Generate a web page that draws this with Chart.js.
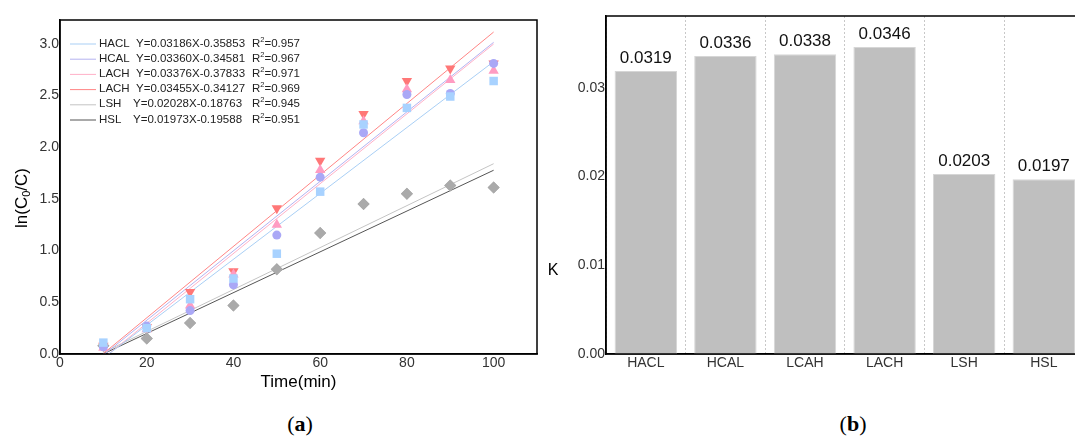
<!DOCTYPE html>
<html><head><meta charset="utf-8">
<script src="https://cdn.jsdelivr.net/npm/chart.js@4"></script>
<style>
html,body{margin:0;padding:0;background:#fff;overflow:hidden;width:1075px;height:440px;position:relative;}
#wrapA{position:absolute;left:0;top:0;width:545px;height:400px;}
#wrapB{position:absolute;left:540px;top:0;width:553px;height:400px;}
.cap{position:absolute;top:411px;font-family:"Liberation Serif","DejaVu Serif",serif;font-size:22px;color:#000;transform:translateX(-50%);white-space:nowrap;}
</style></head><body>
<div id="wrapA"><canvas id="ca" width="545" height="400" style="width:545px;height:400px"></canvas></div>
<div id="wrapB"><canvas id="cb" width="553" height="400" style="width:553px;height:400px"></canvas></div>
<div class="cap" style="left:300px">(<b>a</b>)</div>
<div class="cap" style="left:853px">(<b>b</b>)</div>
<script>
// ---- Panel (a): kinetics data ----
const timeMin = [10, 20, 30, 40, 50, 60, 70, 80, 90, 100];
const haclVals = [0.11, 0.25, 0.53, 0.73, 0.97, 1.57, 2.22, 2.38, 2.49, 2.64];
const hcalVals = [0.07, 0.27, 0.42, 0.67, 1.15, 1.71, 2.14, 2.51, 2.52, 2.81];
const lach1Vals = [0.06, 0.24, 0.47, 0.77, 1.25, 1.78, 2.25, 2.56, 2.65, 2.74];
const lach2Vals = [0.08, 0.26, 0.60, 0.80, 1.41, 1.87, 2.32, 2.64, 2.76, 2.81];
const lshVals = [0.08, 0.15, 0.30, 0.47, 0.82, 1.17, 1.45, 1.55, 1.63, 1.61];
const hslVals = [0.08, 0.15, 0.30, 0.47, 0.82, 1.17, 1.45, 1.55, 1.63, 1.61];

const fitNames = ['HACL', 'HCAL', 'LACH', 'LACH', 'LSH', 'HSL'];
const fitSlopes = [0.03186, 0.03360, 0.03376, 0.03455, 0.02028, 0.01973];
const fitIntercepts = [-0.35853, -0.34581, -0.37833, -0.34127, -0.18763, -0.19588];
const fitR2 = ['0.957', '0.967', '0.971', '0.969', '0.945', '0.951'];
const fitRange = [10, 100];

// ---- Panel (b): rate constants ----
const kCategories = ['HACL', 'HCAL', 'LCAH', 'LACH', 'LSH', 'HSL'];
const kValues = [0.0319, 0.0336, 0.0338, 0.0346, 0.0203, 0.0197];

// styles
const lineColors = ['#a9cff5', '#b4b2f0', '#ffb0c8', '#ff8585', '#c4c4c4', '#555555'];
const markerSets = [
  {vals: haclVals, style: 'rect', r: 6, color: '#a8d2ff'},
  {vals: hcalVals, style: 'circle', r: 4.5, color: '#aaa8f6'},
  {vals: lach1Vals, style: 'triangle', r: 6, color: '#ff9cc2', rot: 0},
  {vals: lach2Vals, style: 'triangle', r: 6, color: '#ff7777', rot: 180},
  {vals: lshVals, style: 'rectRot', r: 6, color: '#aaaaaa'},
  {vals: hslVals, style: 'rectRot', r: 6, color: '#aaaaaa'}
];
const FONT = '"Liberation Sans", Arial, sans-serif';
Chart.defaults.font.family = FONT;

const datasetsA = [];
fitNames.forEach((n, i) => {
  datasetsA.push({
    label: n + ' fit',
    data: fitRange.map(t => ({x: t, y: fitSlopes[i] * t + fitIntercepts[i]})),
    showLine: true, borderColor: lineColors[i], borderWidth: 1,
    pointRadius: 0, fill: false, order: 2
  });
});
markerSets.forEach((m, i) => {
  datasetsA.push({
    label: fitNames[i],
    data: timeMin.map((t, j) => ({x: t, y: m.vals[j]})),
    showLine: false, pointStyle: m.style, pointRadius: m.r, pointHoverRadius: m.r,
    rotation: m.rot || 0,
    backgroundColor: m.color, borderColor: m.color, borderWidth: 0, order: 1
  });
});

const frameA = {
  id: 'frameA',
  afterDraw(chart) {
    const {ctx, chartArea: a} = chart;
    ctx.save();
    ctx.strokeStyle = '#000'; ctx.lineWidth = 1.5;
    ctx.strokeRect(a.left, a.top, a.right - a.left, a.bottom - a.top);
    // legend
    ctx.textBaseline = 'middle';
    const lf = '11.5px ' + FONT;
    fitNames.forEach((name, i) => {
      const y = 43.5 + i * 15.2;
      ctx.strokeStyle = lineColors[i]; ctx.lineWidth = 1;
      ctx.beginPath(); ctx.moveTo(70, y + 0.5); ctx.lineTo(96, y + 0.5); ctx.stroke();
      ctx.fillStyle = '#222';
      ctx.font = lf;
      ctx.fillText(name, 99, y);
      const b = fitIntercepts[i];
      const eq = 'Y=' + fitSlopes[i].toFixed(5) + 'X' + (b < 0 ? '-' : '+') + Math.abs(b).toFixed(5);
      ctx.fillText(eq, name.length < 4 ? 133 : 136, y);
      let x = 252;
      ctx.fillText('R', x, y); x += ctx.measureText('R').width;
      ctx.font = '7.5px ' + FONT;
      ctx.fillText('2', x, y - 4); x += ctx.measureText('2').width;
      ctx.font = lf;
      ctx.fillText('=' + fitR2[i], x, y);
    });
    // y title ln(C0/C)
    ctx.translate(22, 198);
    ctx.rotate(-Math.PI / 2);
    ctx.fillStyle = '#000';
    const big = '17px ' + FONT, small = '11px ' + FONT;
    ctx.font = big; const w1 = ctx.measureText('ln(C').width; const w3 = ctx.measureText('/C)').width;
    ctx.font = small; const w2 = ctx.measureText('0').width;
    let x0 = -(w1 + w2 + w3) / 2;
    ctx.textBaseline = 'middle';
    ctx.font = big; ctx.fillText('ln(C', x0, 0); x0 += w1;
    ctx.font = small; ctx.fillText('0', x0, 5); x0 += w2;
    ctx.font = big; ctx.fillText('/C)', x0, 0);
    ctx.restore();
  }
};

new Chart(document.getElementById('ca'), {
  type: 'scatter',
  data: {datasets: datasetsA},
  options: {
    responsive: false, animation: false, devicePixelRatio: 1,
    layout: {padding: {top: 20, right: 8, left: 0, bottom: 0}},
    plugins: {legend: {display: false}, tooltip: {enabled: false}},
    scales: {
      x: {
        type: 'linear', min: 0, max: 110,
        ticks: {stepSize: 20, includeBounds: false, color: '#333', font: {size: 14}, padding: 1},
        grid: {display: false, drawTicks: false},
        border: {display: true, color: '#000', width: 1.5},
        title: {display: true, text: 'Time(min)', color: '#000', font: {size: 17}, padding: {top: 7, bottom: 7}},
        afterFit(s) { s.height = 46; }
      },
      y: {
        type: 'linear', min: 0, max: 3.23,
        ticks: {stepSize: 0.5, includeBounds: false, color: '#333', font: {size: 14}, padding: 1,
          callback: v => Number(v).toFixed(1)},
        grid: {display: false, drawTicks: false},
        border: {display: true, color: '#000', width: 1.5},
        afterFit(s) { s.width = 60; }
      }
    }
  },
  plugins: [frameA]
});

// ---- Panel (b) ----
const frameB = {
  id: 'frameB',
  afterDatasetsDraw(chart) {
    const {ctx, chartArea: a} = chart;
    ctx.save();
    ctx.font = '17px ' + FONT; ctx.fillStyle = '#111';
    ctx.textAlign = 'center'; ctx.textBaseline = 'bottom';
    chart.getDatasetMeta(0).data.forEach((bar, i) => {
      ctx.fillText(kValues[i].toFixed(4), bar.x, bar.y - 4);
    });
    ctx.strokeStyle = '#000'; ctx.lineWidth = 1.5;
    ctx.strokeRect(a.left, a.top, a.right - a.left, a.bottom - a.top);
    ctx.fillStyle = '#000'; ctx.font = '16px ' + FONT;
    ctx.textBaseline = 'middle';
    ctx.fillText('K', 13, 271);
    ctx.restore();
  }
};

new Chart(document.getElementById('cb'), {
  type: 'bar',
  data: {
    labels: kCategories,
    datasets: [{
      label: 'K', data: kValues,
      backgroundColor: '#bfbfbf', borderColor: '#d6d6d6', borderWidth: 1,
      barPercentage: 0.784, categoryPercentage: 1
    }]
  },
  options: {
    responsive: false, animation: false, devicePixelRatio: 1,
    layout: {padding: {top: 16, right: 9.4, left: 0, bottom: 0}},
    plugins: {legend: {display: false}, tooltip: {enabled: false}},
    scales: {
      x: {
        ticks: {color: '#333', font: {size: 14}, padding: 1},
        grid: {display: true, offset: true, drawTicks: false, color: '#c8c8c8', lineWidth: 1},
        border: {display: true, color: '#000', width: 1.5, dash: [2, 2]},
        afterFit(s) { s.height = 46; }
      },
      y: {
        min: 0, max: 0.0381,
        ticks: {stepSize: 0.01, includeBounds: false, color: '#333', font: {size: 14}, padding: 1,
          callback: v => Number(v).toFixed(2)},
        grid: {display: false, drawTicks: false},
        border: {display: true, color: '#000', width: 1.5},
        afterFit(s) { s.width = 66; }
      }
    }
  },
  plugins: [frameB]
});
</script>
</body></html>
